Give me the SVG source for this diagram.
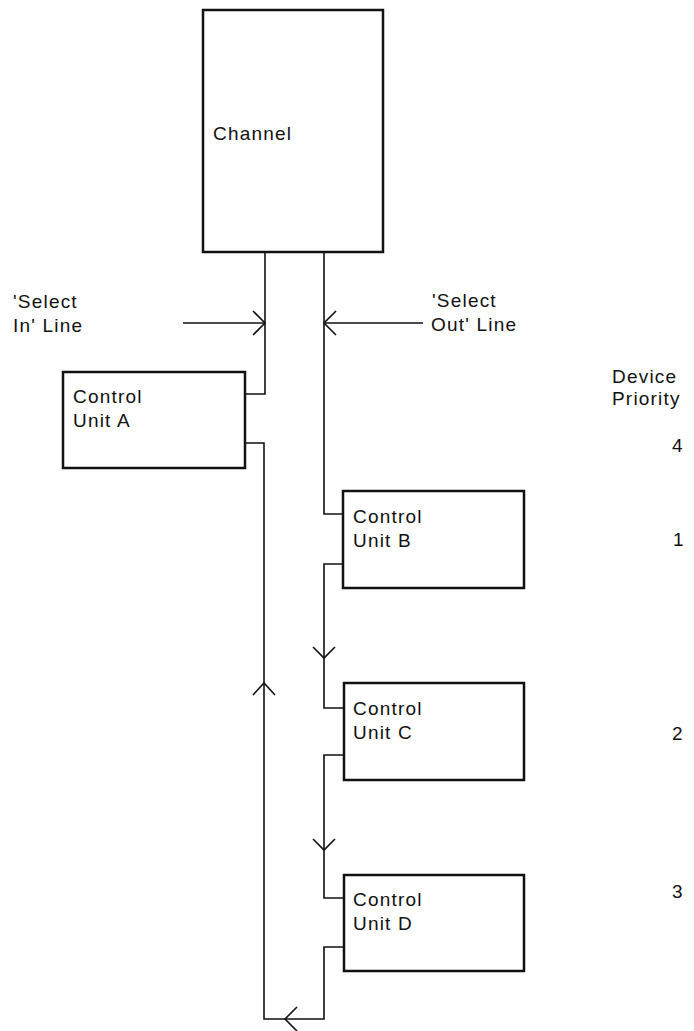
<svg xmlns="http://www.w3.org/2000/svg" width="694" height="1031" viewBox="0 0 694 1031">
<style>
.box{fill:#fff;stroke:#111;stroke-width:2.5}
.ln{fill:none;stroke:#111;stroke-width:1.6;stroke-linejoin:miter}
.t{font-family:"Liberation Sans",Arial,sans-serif;font-size:19px;fill:#111;letter-spacing:1.2px}
</style>
<rect width="694" height="1031" fill="#fff"/>
<g id="connectors">
<path class="ln" d="M265,252 V394 H245"/>
<path class="ln" d="M324,252 V514 H343"/>
<path class="ln" d="M183,323 H265"/>
<path class="ln" d="M253,311 L265,323 L253,335"/>
<path class="ln" d="M423,323 H324"/>
<path class="ln" d="M336,311 L324,323 L336,335"/>
<path class="ln" d="M245,443 H264 V1019 H324 V947 H344"/>
<path class="ln" d="M253,695 L264,683 L275,695"/>
<path class="ln" d="M297,1007 L285,1019 L297,1031"/>
<path class="ln" d="M343,564 H324 V708 H344"/>
<path class="ln" d="M313,647 L324,658 L335,647"/>
<path class="ln" d="M344,755 H324 V898 H344"/>
<path class="ln" d="M313,839 L324,850 L335,839"/>
</g>
<g id="channel">
<rect class="box" x="203" y="10" width="180" height="242"/>
<text class="t" x="213" y="140">Channel</text>
</g>
<g id="select-in-label">
<text class="t" x="13" y="308">'Select</text>
<text class="t" x="13" y="332">In' Line</text>
</g>
<g id="select-out-label">
<text class="t" x="432" y="307">'Select</text>
<text class="t" x="431" y="331">Out' Line</text>
</g>
<g id="control-unit-a">
<rect class="box" x="63" y="372" width="182" height="96"/>
<text class="t" x="73" y="403">Control</text>
<text class="t" x="73" y="427">Unit A</text>
</g>
<g id="control-unit-b">
<rect class="box" x="343" y="491" width="181" height="97"/>
<text class="t" x="353" y="523">Control</text>
<text class="t" x="353" y="547">Unit B</text>
</g>
<g id="control-unit-c">
<rect class="box" x="344" y="683" width="180" height="97"/>
<text class="t" x="353" y="715">Control</text>
<text class="t" x="353" y="739">Unit C</text>
</g>
<g id="control-unit-d">
<rect class="box" x="344" y="875" width="180" height="96"/>
<text class="t" x="353" y="906">Control</text>
<text class="t" x="353" y="930">Unit D</text>
</g>
<g id="device-priority">
<text class="t" x="612" y="383">Device</text>
<text class="t" x="612" y="405">Priority</text>
<text class="t" x="672" y="452">4</text>
<text class="t" x="673" y="546">1</text>
<text class="t" x="672" y="740">2</text>
<text class="t" x="672" y="898">3</text>
</g>
</svg>
